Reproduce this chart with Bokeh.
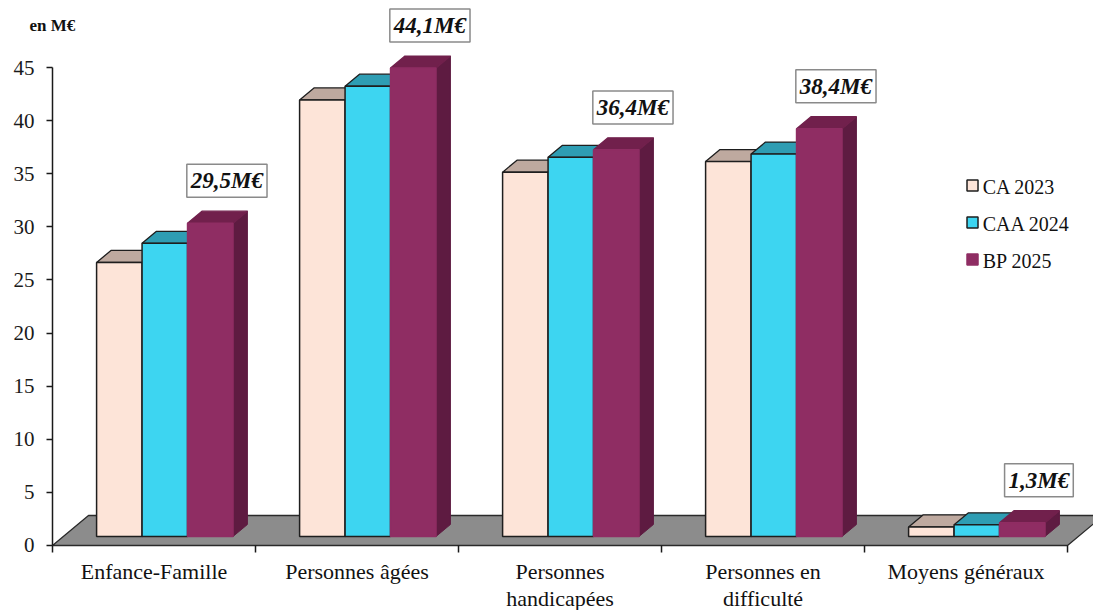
from bokeh.plotting import figure
from bokeh.models import Range1d, FixedTicker, ColumnDataSource
from bokeh.core.properties import value
from bokeh.embed import file_html
from bokeh.resources import INLINE

# ---- data (M€) ----
categories = ["Enfance-Famille", "Personnes âgées", "Personnes\nhandicapées",
              "Personnes en\ndifficulté", "Moyens généraux"]
series_names = ["CA 2023", "CAA 2024", "BP 2025"]
ca_2023 = [25.8, 41.1, 34.3, 35.3, 0.9]
caa_2024 = [27.6, 42.4, 35.7, 36.0, 1.1]
bp_2025 = [29.5, 44.1, 36.4, 38.4, 1.3]
y_ticks = [0, 5, 10, 15, 20, 25, 30, 35, 40, 45]

series_values = [ca_2023, caa_2024, bp_2025]

# ---- styling ----
FONT = "Liberation Serif"
front_colors = ["#FDE4D8", "#3DD5F1", "#8F2D63"]
top_colors = ["#BEA99F", "#2E9DB3", "#71204C"]
side_colors = ["#A89388", "#27899F", "#5E1B41"]
edge_colors = ["#1E1E1E", "#1E1E1E", None]

# pseudo-3D geometry (category units on x, M€ on y)
DX, DY = 0.1773, 2.824      # depth vector of the floor
F_FRONT, F_DEPTH = 0.3, 0.4  # bar front plane and bar depth (fractions of floor depth)
BW = 0.224                   # bar width
X0 = -52 / 203               # room left of the value axis

p = figure(width=1093, height=610, output_backend="svg", toolbar_location=None,
           x_range=Range1d(X0, 5.128), y_range=Range1d(-6.12, 51.31),
           x_axis_location=None, min_border_left=0, min_border_right=0,
           min_border_top=0, min_border_bottom=0)
p.outline_line_color = None
p.grid.visible = False
p.background_fill_color = "white"

# y axis, drawn at category position 0
ya = p.yaxis[0]
ya.fixed_location = 0
ya.ticker = FixedTicker(ticks=y_ticks)
ya.bounds = (0, 45)
ya.major_tick_out = 6
ya.major_tick_in = 0
ya.minor_tick_line_color = None
ya.axis_line_color = "#1a1a1a"
ya.axis_line_width = 1.5
ya.major_tick_line_color = "#1a1a1a"
ya.major_tick_line_width = 1.5
ya.major_label_text_font = FONT
ya.major_label_text_font_size = "21px"
ya.major_label_text_color = "#1a1a1a"
ya.major_label_standoff = 12

# floor
n = len(categories)
p.patch([0, n, n + DX, DX], [0, 0, DY, DY], fill_color="#8C8C8C",
        line_color="#2a2a2a", line_width=1.3)

# category separators below the floor
p.segment(x0=list(range(n + 1)), y0=[0] * (n + 1), x1=list(range(n + 1)),
          y1=[-0.66] * (n + 1), line_color="#1a1a1a", line_width=1.5)

# bars
y0 = F_FRONT * DY
ddx, ddy = F_DEPTH * DX, F_DEPTH * DY
sides, tops, fronts = [], [], []
for j, vals in enumerate(series_values):
    sx, sy, tx, ty, fx, fy = [], [], [], [], [], []
    for i, v in enumerate(vals):
        gc = i + 0.5 + F_FRONT * DX
        l = gc + (j - 1.5) * BW
        r = l + BW
        y1 = y0 + v
        fx.append([l, r, r, l]); fy.append([y0, y0, y1, y1])
        tx.append([l, r, r + ddx, l + ddx]); ty.append([y1, y1, y1 + ddy, y1 + ddy])
        sx.append([r, r + ddx, r + ddx, r]); sy.append([y0, y0 + ddy, y1 + ddy, y1])
    sides.append((sx, sy)); tops.append((tx, ty)); fronts.append((fx, fy))

for j in range(3):
    lc = edge_colors[j] or side_colors[j]
    p.patches(*sides[j], fill_color=side_colors[j], line_color=lc, line_width=1)
for j in range(3):
    lc = edge_colors[j] or top_colors[j]
    p.patches(*tops[j], fill_color=top_colors[j], line_color=lc, line_width=1.3)
for j in range(3):
    lc = edge_colors[j] or front_colors[j]
    p.patches(*fronts[j], fill_color=front_colors[j], line_color=lc, line_width=1.5)

# value labels above the BP 2025 bars
lab_src = ColumnDataSource(dict(
    x=[i + 0.5 + F_FRONT * DX + BW + 0.082 for i in range(n)],
    y=[y0 + v + 4.0 for v in bp_2025],
    text=[f"{v:.1f}".replace(".", ",") + "M€" for v in bp_2025],
))
p.text(x="x", y="y", text="text", source=lab_src, text_align="center",
       text_baseline="middle", text_font=value(FONT), text_font_style="bold italic",
       text_font_size="23px", text_color="#111111",
       background_fill_color="white", border_line_color="#8a8a8a",
       border_line_width=1.5, padding=4)

# category labels
cat_src = ColumnDataSource(dict(x=[i + 0.5 for i in range(n)], y=[-1.3] * n,
                                text=categories))
p.text(x="x", y="y", text="text", source=cat_src, text_align="center",
       text_baseline="top", text_font=value(FONT), text_font_size="22px",
       text_color="#111111", text_line_height=1.05)

# legend
leg_x = 4.532
leg_y = [33.89, 30.41, 26.93]
p.scatter(x=[leg_x] * 3, y=leg_y, marker="square", size=11,
          fill_color=front_colors,
          line_color=[c or front_colors[k] for k, c in enumerate(edge_colors)],
          line_width=1.5)
p.text(x=[leg_x + 0.05] * 3, y=[v - 0.18 for v in leg_y], text=series_names,
       text_align="left", text_baseline="middle", text_font=value(FONT),
       text_font_size="20px", text_color="#111111")

# unit label
p.text(x=[X0 + 29 / 203], y=[48.96], text=["en M€"], text_align="left",
       text_baseline="middle", text_font=value(FONT), text_font_style="bold",
       text_font_size="17px", text_color="#111111")

open("out.html", "w").write(file_html(p, INLINE))
